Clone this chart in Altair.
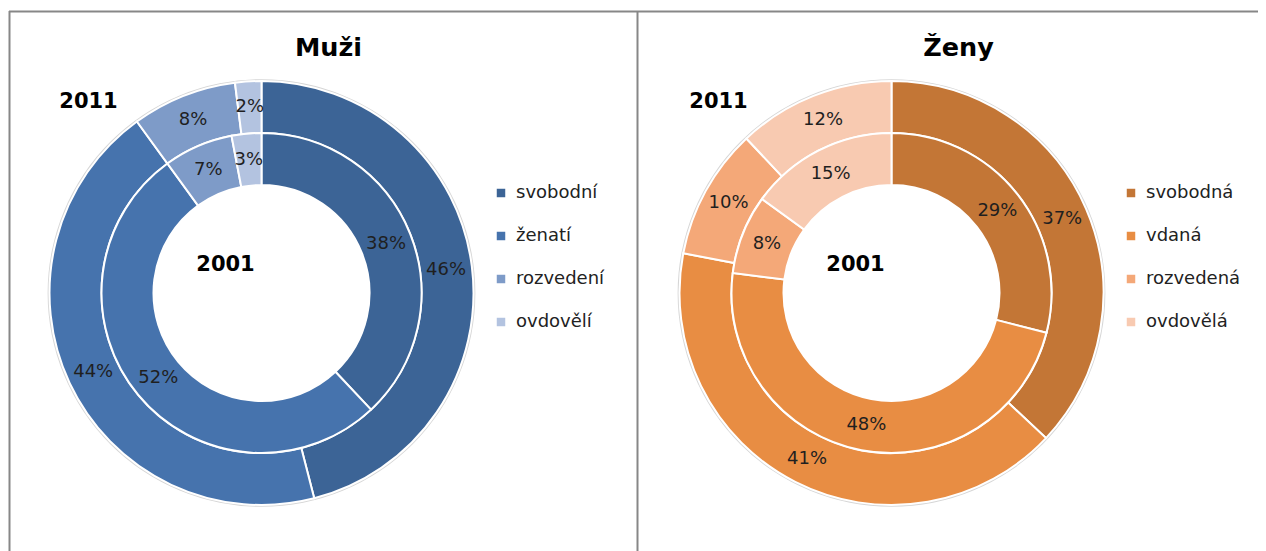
import altair as alt
import pandas as pd

# ---- data ----
categories_m = ["svobodní", "ženatí", "rozvedení", "ovdovělí"]
categories_f = ["svobodná", "vdaná", "rozvedená", "ovdovělá"]
men_2001 = [38, 52, 7, 3]      # inner ring
men_2011 = [46, 44, 8, 2]      # outer ring
women_2001 = [29, 48, 8, 15]   # inner ring
women_2011 = [37, 41, 10, 12]  # outer ring
panel_titles = ["Muži", "Ženy"]
ring_labels = ["2011", "2001"]

colors_m = ["#3C6496", "#4673AD", "#7E9BC8", "#B3C3E0"]
colors_f = ["#C37636", "#E88D43", "#F4A878", "#F8CAB1"]

FONT = "DejaVu Sans"
W, H = 1250, 543
BORDER = "#878787"


def frame(cats, vals):
    return pd.DataFrame({
        "cat": cats,
        "v": vals,
        "i": list(range(len(cats))),
        "lab": [f"{v}%" for v in vals],
    })


def one(text):
    return alt.Data(values=[{"t": text}])


def panel(cats, inner_vals, outer_vals, colors, title, cx, cy, lx, ly):
    legend = alt.Legend(
        title=None, orient="none", legendX=lx, legendY=ly,
        symbolType="square", symbolSize=72, symbolStrokeWidth=0,
        labelFont=FONT, labelFontSize=18, labelColor="#222222",
        rowPadding=25, labelOffset=6, padding=0,
    )
    scale = alt.Scale(domain=cats, range=colors)
    theta = alt.Theta("v:Q", stack=True)
    order = alt.Order("i:Q", sort="ascending")
    pos = dict(x=alt.value(cx), y=alt.value(cy))

    outer_df = frame(cats, outer_vals)
    inner_df = frame(cats, inner_vals)

    halo = alt.Chart(one("")).mark_arc(
        theta=0, theta2=6.2832, outerRadius=213.8, innerRadius=200,
        color="#d6d6d6"
    ).encode(**pos)
    outer_arc = alt.Chart(outer_df).mark_arc(
        outerRadius=212, innerRadius=160, stroke="white", strokeWidth=2
    ).encode(theta=theta, order=order,
             color=alt.Color("cat:N", scale=scale, sort=cats, legend=legend), **pos)
    inner_arc = alt.Chart(inner_df).mark_arc(
        outerRadius=160, innerRadius=108, stroke="white", strokeWidth=2
    ).encode(theta=theta, order=order,
             color=alt.Color("cat:N", scale=scale, sort=cats, legend=None), **pos)

    txt = dict(font=FONT, fontSize=18, color="#1F1F1F", align="center", baseline="middle")
    outer_txt = alt.Chart(outer_df).mark_text(radius=186, **txt).encode(
        theta=theta, order=order, text="lab:N", **pos)
    inner_txt = alt.Chart(inner_df).mark_text(radius=134, **txt).encode(
        theta=theta, order=order, text="lab:N", **pos)

    ttl = alt.Chart(one(title)).mark_text(
        font=FONT, fontSize=25.5, fontWeight="bold", color="black",
        align="center", baseline="alphabetic"
    ).encode(text="t:N", x=alt.value(cx + 67), y=alt.value(47.5))
    y2011 = alt.Chart(one(ring_labels[0])).mark_text(
        font=FONT, fontSize=21, fontWeight="bold", color="black",
        align="center", baseline="alphabetic"
    ).encode(text="t:N", x=alt.value(cx - 173), y=alt.value(100))
    y2001 = alt.Chart(one(ring_labels[1])).mark_text(
        font=FONT, fontSize=21, fontWeight="bold", color="black",
        align="center", baseline="alphabetic"
    ).encode(text="t:N", x=alt.value(cx - 36), y=alt.value(263))

    return alt.layer(halo, outer_arc, inner_arc, outer_txt, inner_txt, ttl, y2011, y2001)


left = panel(categories_m, men_2001, men_2011, colors_m, panel_titles[0],
             253.5, 285, 484, 176)
right = panel(categories_f, women_2001, women_2011, colors_f, panel_titles[1],
              883.5, 285, 1114, 176)

frame_data = alt.Data(values=[{"a": 0}])
top_rule = alt.Chart(frame_data).mark_rule(color=BORDER, strokeWidth=2).encode(
    x=alt.value(1), x2=alt.value(W + 10), y=alt.value(3.5))
left_rule = alt.Chart(frame_data).mark_rule(color=BORDER, strokeWidth=2).encode(
    x=alt.value(1.5), y=alt.value(3), y2=alt.value(H + 10))
mid_rule = alt.Chart(frame_data).mark_rule(color=BORDER, strokeWidth=2).encode(
    x=alt.value(629.5), y=alt.value(3), y2=alt.value(H + 10))

chart = alt.layer(left, right, top_rule, left_rule, mid_rule).resolve_scale(
    color="independent"
).properties(
    width=W, height=H, padding=0,
    autosize=alt.AutoSizeParams(type="none"),
    background="white",
).configure_view(strokeWidth=0)

chart.save("out.html", embed_options={"renderer": "svg", "actions": False})
